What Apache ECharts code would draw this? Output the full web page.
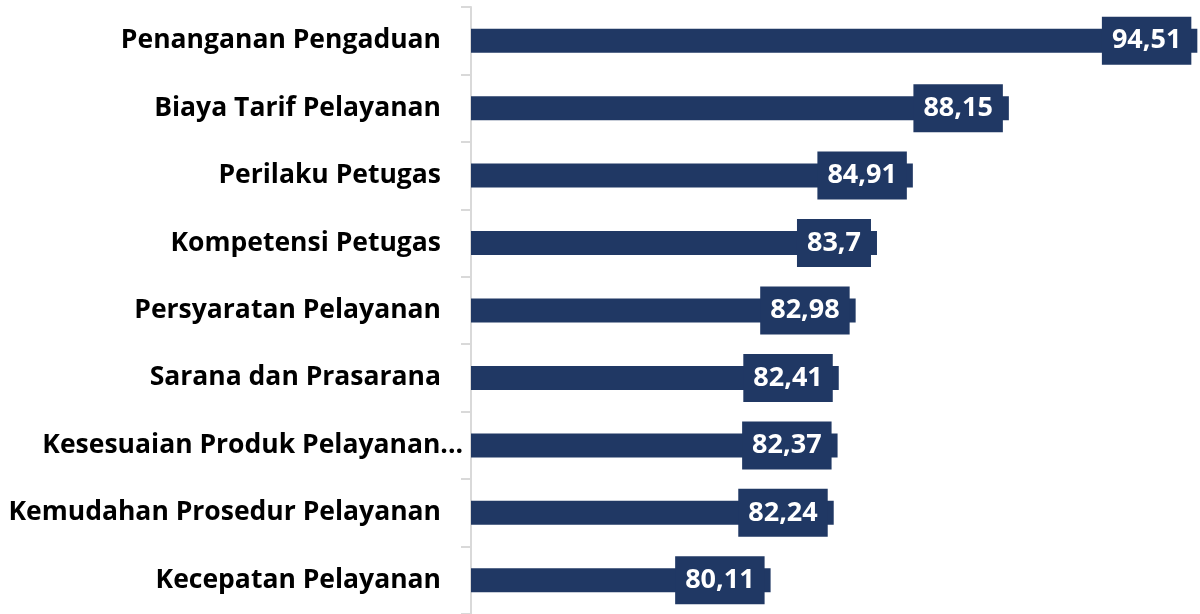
<!DOCTYPE html>
<html>
<head>
<meta charset="utf-8">
<script src="https://cdn.jsdelivr.net/npm/echarts@6/dist/echarts.min.js"></script>
<style>
  html, body { margin: 0; padding: 0; background: #fff; }
  #container { width: 1200px; height: 614px; }
</style>
</head>
<body>
<div id="container"></div>
<script>
const categories = [
    'Penanganan Pengaduan',
    'Biaya Tarif Pelayanan',
    'Perilaku Petugas',
    'Kompetensi Petugas',
    'Persyaratan Pelayanan',
    'Sarana dan Prasarana',
    'Kesesuaian Produk Pelayanan...',
    'Kemudahan Prosedur Pelayanan',
    'Kecepatan Pelayanan'
];
const values = [94.51, 88.15, 84.91, 83.7, 82.98, 82.41, 82.37, 82.24, 80.11];

function draw_bars() {
    let dom = document.getElementById("container");
    let myChart = echarts.init(dom);

    let option = {
        animation: false,
        grid: {
            left: 471,
            right: 0,
            top: 7,
            bottom: 0,
            containLabel: false,
            outerBoundsMode: 'none'
        },
        xAxis: {
            type: 'value',
            min: 70,
            max: 94.6,
            show: false
        },
        yAxis: {
            type: 'category',
            inverse: true,
            data: categories,
            axisLine: {
                show: true,
                lineStyle: {color: '#d9d9d9', width: 2}
            },
            axisTick: {
                show: true,
                alignWithLabel: false,
                length: 10,
                lineStyle: {color: '#d9d9d9', width: 2}
            },
            axisLabel: {
                margin: 8,
                formatter: function (v) {
                    return v.endsWith('...') ? '{b|' + v + '}' : '{a|' + v + '}';
                },
                rich: {
                    a: {
                        fontFamily: 'Open Sans',
                        fontWeight: 'bold',
                        fontSize: 26.5,
                        color: '#000',
                        padding: [0, 22, 0, 0]
                    },
                    b: {
                        fontFamily: 'Open Sans',
                        fontWeight: 'bold',
                        fontSize: 26.5,
                        color: '#000'
                    }
                }
            }
        },
        series: [
            {
                type: 'bar',
                data: values,
                barWidth: 24,
                itemStyle: {color: '#203864'},
                label: {
                    show: true,
                    position: 'insideRight',
                    distance: 6,
                    formatter: function (p) {
                        return String(p.value).replace('.', ',');
                    },
                    fontFamily: 'Open Sans',
                    fontWeight: 'bold',
                    fontSize: 27,
                    lineHeight: 30,
                    color: '#fff',
                    backgroundColor: '#203864',
                    padding: [9, 10, 9, 10]
                }
            }
        ]
    };

    if (option && typeof option === "object") {
        myChart.setOption(option, true);
    }
}
draw_bars();
</script>
</body>
</html>
